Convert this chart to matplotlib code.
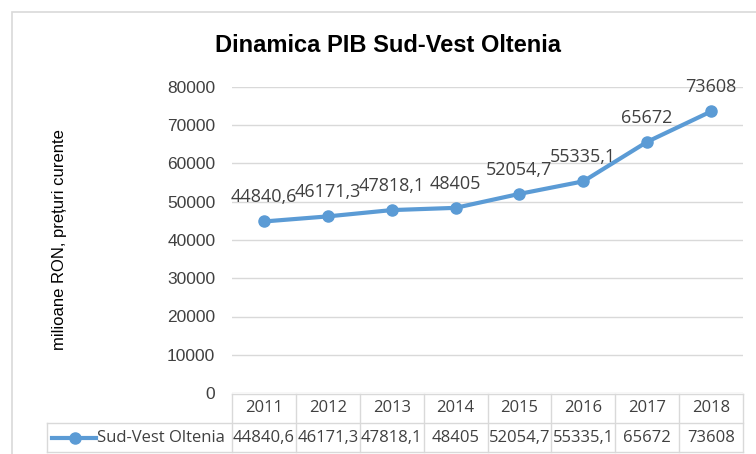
import matplotlib
matplotlib.use("Agg")
import matplotlib.pyplot as plt
from matplotlib.patches import Rectangle
from matplotlib.lines import Line2D

years = ['2011', '2012', '2013', '2014', '2015', '2016', '2017', '2018']
values = [44840.6, 46171.3, 47818.1, 48405, 52054.7, 55335.1, 65672, 73608]
labels = ['44840,6', '46171,3', '47818,1', '48405', '52054,7', '55335,1', '65672', '73608']
yticks = [0, 10000, 20000, 30000, 40000, 50000, 60000, 70000, 80000]
series_name = 'Sud-Vest Oltenia'

plt.rcParams['font.family'] = ['Liberation Sans Narrow', 'Liberation Sans', 'DejaVu Sans']

W, H = 756, 454
fig = plt.figure(figsize=(W / 100, H / 100), dpi=100)

# plot area in pixels
left, right, top, bottom = 232, 743, 87, 393
ax = fig.add_axes([left / W, 1 - bottom / H, (right - left) / W, (bottom - top) / H])

line_col = '#5b9bd5'
grid_col = '#d9d9d9'
txt_col = '#404040'
tfont = ['Open Sans', 'DejaVu Sans']

x = list(range(len(years)))
ax.plot(x, values, color=line_col, lw=3, marker='o', ms=8, zorder=3)
ax.set_xlim(-0.5, len(years) - 0.5)
ax.set_ylim(0, 80000)
ax.set_yticks(yticks)
ax.set_yticklabels([str(v) for v in yticks], fontsize=12.5, color='#404040')
ax.set_xticks([])
ax.grid(axis='y', color=grid_col, lw=1)
ax.tick_params(axis='y', length=0, pad=12)
for s in ax.spines.values():
    s.set_visible(False)

for xi, v, lab in zip(x, values, labels):
    ax.annotate(lab, (xi, v), xytext=(0, 11), textcoords='offset points',
                ha='center', va='bottom', fontsize=13, color=txt_col, family=tfont)

ax.set_ylabel('milioane RON, prețuri curente', fontsize=12, color='black')
ax.yaxis.set_label_coords(-0.323, 0.5)

fig.text(388 / W, 1 - 45 / H, 'Dinamica PIB Sud-Vest Oltenia', ha='center', va='center',
         fontsize=17, fontweight='bold', color='black')

# outer chart border
fig.patches.append(Rectangle((12 / W, -0.02), 1.0, 1 - 12 / H + 0.02, transform=fig.transFigure,
                             fill=False, ec='#d9d9d9', lw=1.2))

# data table below the plot
def fx(p):
    return p / W

def fy(p):
    return 1 - p / H

col_w = (right - left) / len(years)
row1_top, row1_bot, row2_bot = 394, 423, 452
tab_left = 47
tcol = '#d9d9d9'
fig.add_artist(Line2D([fx(left), fx(right)], [fy(row1_top)] * 2, color=tcol, lw=1))
fig.add_artist(Line2D([fx(tab_left), fx(right)], [fy(row1_bot)] * 2, color=tcol, lw=1))
fig.add_artist(Line2D([fx(tab_left), fx(right)], [fy(row2_bot)] * 2, color=tcol, lw=1))
fig.add_artist(Line2D([fx(tab_left), fx(tab_left)], [fy(row1_bot), fy(row2_bot)], color=tcol, lw=1))
for i in range(len(years) + 1):
    xp = left + i * col_w
    fig.add_artist(Line2D([fx(xp), fx(xp)], [fy(row1_top), fy(row2_bot)], color=tcol, lw=1))

for i, (yr, lab) in enumerate(zip(years, labels)):
    xc = left + (i + 0.5) * col_w
    fig.text(fx(xc), fy((row1_top + row1_bot) / 2), yr, ha='center', va='center',
             fontsize=12, color=txt_col, family=tfont)
    fig.text(fx(xc), fy((row1_bot + row2_bot) / 2), lab, ha='center', va='center',
             fontsize=12, color=txt_col, family=tfont)

ymid = fy((row1_bot + row2_bot) / 2)
fig.add_artist(Line2D([fx(52), fx(96)], [ymid, ymid], color=line_col, lw=3))
fig.add_artist(Line2D([fx(75)], [ymid], color=line_col, marker='o', ms=8))
fig.text(fx(97), ymid, series_name, ha='left', va='center', fontsize=12,
         color=txt_col, family=tfont)

fig.savefig('out.png', dpi=100)
